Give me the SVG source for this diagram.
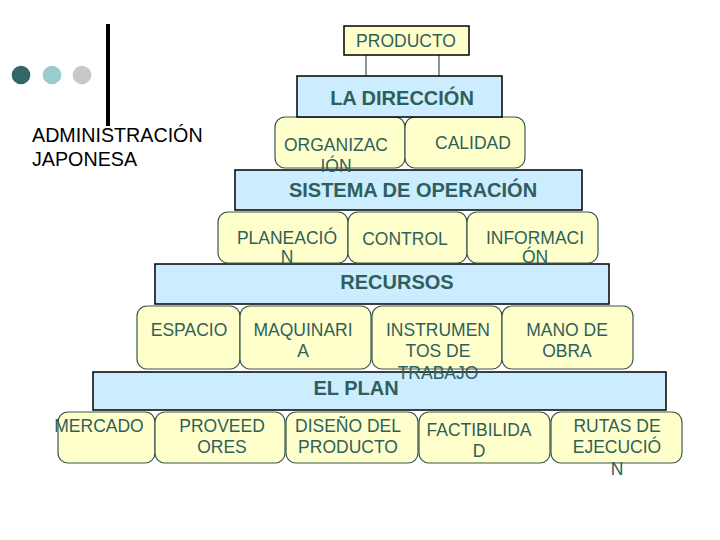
<svg xmlns="http://www.w3.org/2000/svg" width="720" height="540" viewBox="0 0 720 540">
<style>
.bar{fill:#CCECFF;stroke:#000;stroke-width:1.5}
.box{fill:#FFFFCC;stroke:#3A5650;stroke-width:1.2}
.t{font-family:"Liberation Sans",Arial,sans-serif;font-size:17.5px;fill:#2F5F5A;text-anchor:middle}
.b{font-family:"Liberation Sans",Arial,sans-serif;font-size:20px;font-weight:bold;fill:#2F5F5A;text-anchor:middle}
.k{font-family:"Liberation Sans",Arial,sans-serif;font-size:19.7px;fill:#000}
.conn{stroke:#3A5650;stroke-width:1.2;fill:none}
</style>
<rect width="720" height="540" fill="#fff"/>
<g id="decor">
<circle cx="21" cy="75" r="9.3" fill="#336666"/>
<circle cx="52" cy="75" r="9.3" fill="#99CCCC"/>
<circle cx="82" cy="75" r="9.3" fill="#C8C8C8"/>
<rect x="106" y="24" width="4" height="102" fill="#000"/>
</g>
<g id="title">
<text class="k" x="32" y="142">ADMINISTRACIÓN</text>
<text class="k" x="32" y="166">JAPONESA</text>
</g>
<g id="connectors">
<line class="conn" x1="366" y1="55" x2="366" y2="77"/>
<line class="conn" x1="439" y1="55" x2="439" y2="77"/>
</g>
<g id="mercado"><rect class="box" x="58" y="412" width="97" height="51" rx="10"/><text class="t" x="99" y="432">MERCADO</text></g>
<g id="proveedores"><rect class="box" x="155" y="412" width="130" height="51" rx="10"/><text class="t" x="222" y="432">PROVEED</text><text class="t" x="222" y="453">ORES</text></g>
<g id="diseno"><rect class="box" x="286" y="412" width="132" height="51" rx="10"/><text class="t" x="348" y="432">DISEÑO DEL</text><text class="t" x="348" y="453">PRODUCTO</text></g>
<g id="factibilidad"><rect class="box" x="419" y="412" width="131" height="51" rx="10"/><text class="t" x="479" y="436">FACTIBILIDA</text><text class="t" x="479" y="457">D</text></g>
<g id="rutas"><rect class="box" x="551" y="412" width="131" height="51" rx="10"/><text class="t" x="617" y="432">RUTAS DE</text><text class="t" x="617" y="453">EJECUCIÓ</text><text class="t" x="617" y="475">N</text></g>
<g id="el-plan"><rect class="bar" x="93" y="372" width="573" height="38"/><text class="b" x="356" y="395">EL PLAN</text></g>
<g id="espacio"><rect class="box" x="137" y="306" width="103" height="63" rx="10"/><text class="t" x="189" y="336">ESPACIO</text></g>
<g id="maquinaria"><rect class="box" x="240" y="306" width="131" height="63" rx="10"/><text class="t" x="303" y="336">MAQUINARI</text><text class="t" x="303" y="357">A</text></g>
<g id="instrumentos"><rect class="box" x="372" y="306" width="130" height="63" rx="10"/><text class="t" x="438" y="336">INSTRUMEN</text><text class="t" x="438" y="357">TOS DE</text><text class="t" x="438" y="379">TRABAJO</text></g>
<g id="mano-de-obra"><rect class="box" x="502" y="306" width="131" height="63" rx="10"/><text class="t" x="567" y="336">MANO DE</text><text class="t" x="567" y="357">OBRA</text></g>
<g id="recursos"><rect class="bar" x="155" y="264" width="454" height="40"/><text class="b" x="397" y="289">RECURSOS</text></g>
<g id="planeacion"><rect class="box" x="218" y="212" width="130" height="51" rx="10"/><text class="t" x="287" y="244">PLANEACIÓ</text><text class="t" x="287" y="263">N</text></g>
<g id="control"><rect class="box" x="348" y="212" width="119" height="51" rx="10"/><text class="t" x="405" y="245">CONTROL</text></g>
<g id="informacion"><rect class="box" x="467" y="212" width="131" height="51" rx="10"/><text class="t" x="535" y="244">INFORMACI</text><text class="t" x="535" y="263">ÓN</text></g>
<g id="sistema"><rect class="bar" x="235" y="170" width="347" height="40"/><text class="b" x="413" y="197">SISTEMA DE OPERACIÓN</text></g>
<g id="organizacion"><rect class="box" x="275" y="117" width="130" height="51" rx="10"/><text class="t" x="336" y="151">ORGANIZAC</text><text class="t" x="336" y="172">IÓN</text></g>
<g id="calidad"><rect class="box" x="405" y="117" width="120" height="51" rx="10"/><text class="t" x="473" y="149">CALIDAD</text></g>
<g id="la-direccion"><rect class="bar" x="297" y="76" width="205" height="41"/><text class="b" x="402" y="105">LA DIRECCIÓN</text></g>
<g id="producto"><rect fill="#FFFFCC" stroke="#000" stroke-width="1.5" x="344" y="26" width="125" height="29"/><text class="t" x="406" y="47">PRODUCTO</text></g>
</svg>
